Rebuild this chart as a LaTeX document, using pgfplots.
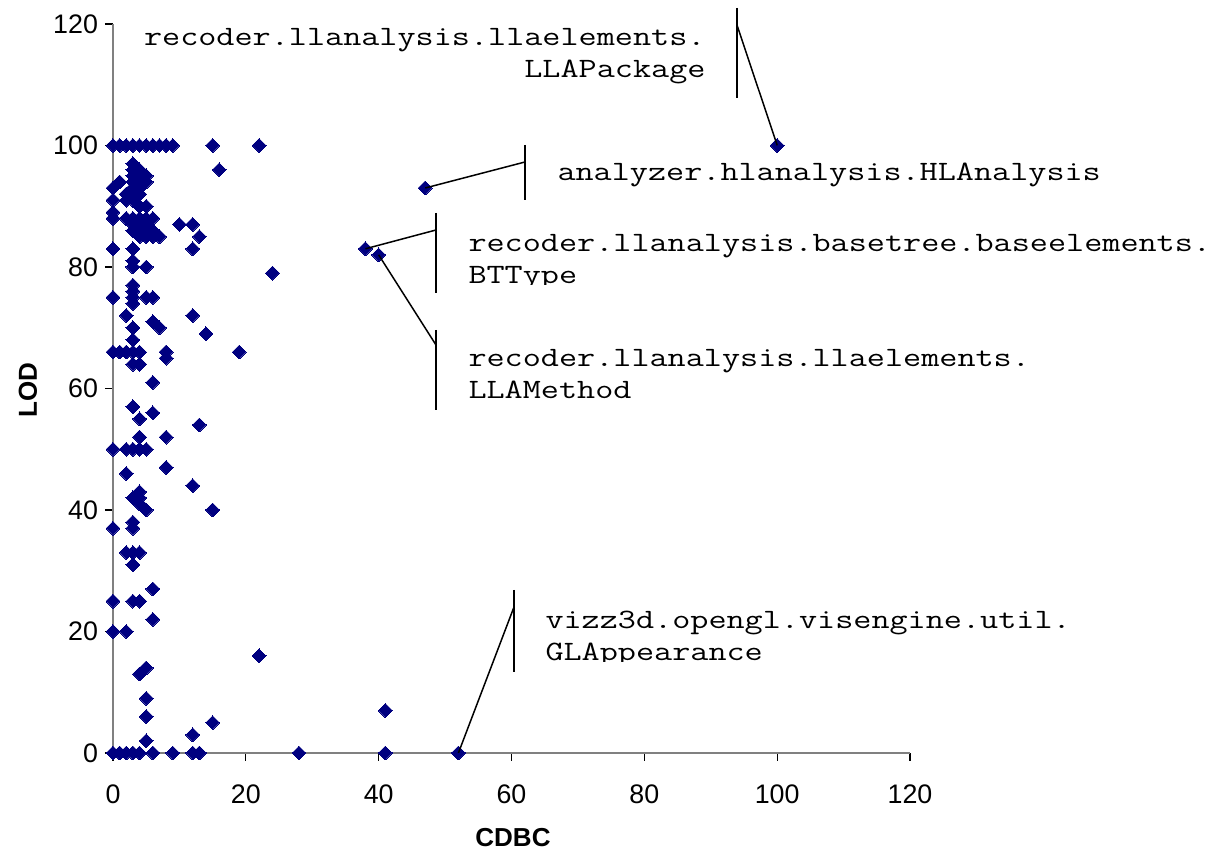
\documentclass[border=0pt]{standalone}
\usepackage{pgfplots}
\pgfplotsset{compat=1.18}
\usepackage{fontspec}
\setmainfont{Liberation Sans}
\definecolor{navy}{RGB}{0,0,128}
\definecolor{axgrey}{RGB}{128,128,128}
\begin{document}
\begin{tikzpicture}
\path[use as bounding box] (-56.5pt,-49.5pt) rectangle (549.5pt,376.5pt);
\begin{axis}[
 at={(0pt,0pt)}, anchor=south west,
 scale only axis, width=398.5pt, height=364.5pt,
 xmin=0,xmax=120,ymin=0,ymax=120,
 xtick={0,20,...,120}, ytick={0,20,...,120},
 axis lines=left, axis line style={-, draw=axgrey, line width=0.8pt},
 tick align=outside, major tick length=4pt, tick style={black, line width=0.6pt},
 clip=false,
 ticklabel style={font=\fontsize{13.4}{15}\selectfont},
 xticklabel style={yshift=-8.5pt},
 /pgf/number format/assume math mode=true,
]
\addplot[only marks, mark=square*, mark size=2.45pt, mark options={rotate=45, fill=navy, draw=navy, line width=0pt}] coordinates {
(0,100)(1,100)(2,100)(3,100)(4,100)(5,100)(6,100)(7,100)(8,100)(9,100)(15,100)(22,100)
(16,96)
(3,97)(3,96)(4,96)(4,95)(5,95)(3,95)(3,94)(4,94)(5,94)(3,93)(4,93)(1,94)(0,93)
(2,92)(3,92)(4,92)(3,91)(0,91)(2,91)(5,90)(4,90)(0,89)(0,88)
(2,88)(3,88)(4,88)(5,88)(6,88)(3,87)(4,87)(5,87)(3,86)(4,86)(5,86)(6,86)
(4,85)(5,85)(6,85)(7,85)(10,87)(12,87)(13,85)(12,83)(0,83)(3,83)(3,81)(3,80)(5,80)(24,79)
(3,77)(3,76)(3,75)(3,74)(5,75)(6,75)(0,75)(2,72)(12,72)(6,71)(7,70)(3,70)(14,69)(3,68)
(0,66)(1,66)(2,66)(3,66)(4,66)(8,66)(8,65)(19,66)(3,64)(4,64)(6,61)(3,57)(6,56)(4,55)(13,54)
(4,52)(8,52)(0,50)(2,50)(3,50)(4,50)(5,50)(2,46)(8,47)(12,44)(4,43)(3,42)(4,42)(4,41)(5,40)(15,40)
(3,38)(3,37)(0,37)(2,33)(3,33)(4,33)(3,31)(6,27)(0,25)(3,25)(4,25)(6,22)(0,20)(2,20)(22,16)
(4,13)(5,14)(5,9)(5,6)(15,5)(12,3)(5,2)
(0,0)(1,0)(2,0)(3,0)(4,0)(6,0)(9,0)(12,0)(13,0)(28,0)(41,0)(41,7)(52,0)
(100,100)(47,93)(38,83)(40,82)
};
\end{axis}
\node[font=\bfseries\fontsize{13}{15}\selectfont, anchor=center] at (200pt,-42.5pt) {CDBC};
\node[font=\bfseries\fontsize{13}{15}\selectfont, anchor=center, rotate=90] at (-42.5pt,181.5pt) {LOD};
\begin{scope}[line width=0.75pt, black]
% LLAPackage
\draw (312pt,372.5pt) -- (312pt,327.5pt);
\draw (312pt,364pt) -- (332.1pt,303.8pt);
% HLAnalysis
\draw (206pt,304pt) -- (206pt,276.5pt);
\draw (206pt,295.5pt) -- (156.1pt,282.5pt);
% BTType
\draw (161.5pt,270pt) -- (161.5pt,230pt);
\draw (161.5pt,261.5pt) -- (126.2pt,252.1pt);
% LLAMethod
\draw (161.5pt,211.5pt) -- (161.5pt,171.5pt);
\draw (161.5pt,204pt) -- (132.8pt,249.1pt);
% GLAppearance
\draw (200.5pt,81.5pt) -- (200.5pt,40.5pt);
\draw (200.5pt,73pt) -- (172.7pt,0pt);
\end{scope}
\tikzset{lbl/.style={inner sep=0pt, font=\ttfamily\fontsize{14}{16}\selectfont, xscale=1.256, transform shape}}
\node[lbl, anchor=base east] at (296.5pt,353.5pt) {recoder.llanalysis.llaelements.};
\node[lbl, anchor=base east] at (296.5pt,337.5pt) {LLAPackage};
\node[lbl, anchor=base west] at (222pt,286pt) {analyzer.hlanalysis.HLAnalysis};
\node[lbl, anchor=base west] at (177.5pt,250.5pt) {recoder.llanalysis.basetree.baseelements.};
\begin{scope}
\clip (170pt,234pt) rectangle (300pt,250pt);
\node[lbl, anchor=base west] at (177.5pt,234.5pt) {BTType};
\end{scope}
\node[lbl, anchor=base west] at (177.5pt,193pt) {recoder.llanalysis.llaelements.};
\node[lbl, anchor=base west] at (177.5pt,177pt) {LLAMethod};
\node[lbl, anchor=base west] at (216pt,62pt) {vizz3d.opengl.visengine.util.};
\begin{scope}
\clip (210pt,45.5pt) rectangle (400pt,60pt);
\node[lbl, anchor=base west] at (216pt,46pt) {GLAppearance};
\end{scope}
\end{tikzpicture}
\end{document}
